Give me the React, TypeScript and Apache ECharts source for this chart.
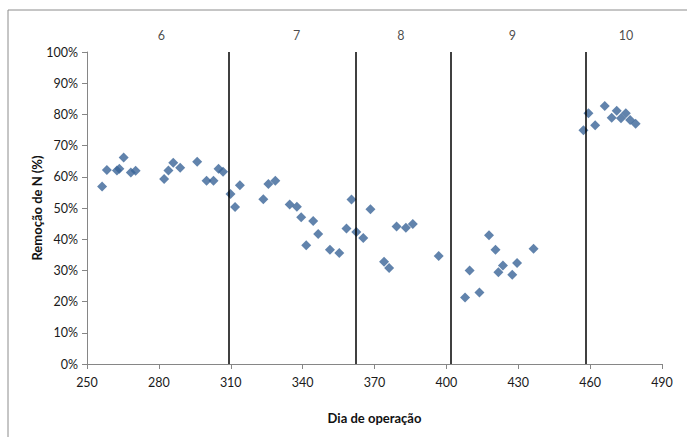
import React, { useEffect, useRef } from "react";
import * as echarts from "echarts";

const days = [
  256.3, 258.3, 262.5, 263.5, 265.3, 268.3, 270.3, 282.2, 284.0, 286.0, 288.9, 296.0,
  299.9, 302.8, 304.9, 306.8, 309.9, 311.8, 313.8,
  323.6, 325.7, 328.6, 334.6, 337.6, 339.4, 341.5, 344.4, 346.5, 351.4, 355.3, 358.3,
  360.4, 362.4, 365.3, 368.3,
  374.0, 376.1, 379.2, 383.1, 386.0, 396.8,
  407.8, 409.7, 413.8, 417.8, 420.5, 421.7, 423.6, 427.5, 429.5, 436.4,
  457.2, 459.3, 462.1, 466.1, 469.0, 471.1, 472.9, 474.9, 476.7, 479.0,
];
const removal = [
  56.9, 62.2, 62.0, 62.6, 66.2, 61.4, 61.9, 59.3, 62.0, 64.5, 62.9, 64.8,
  58.7, 58.7, 62.6, 61.6, 54.5, 50.3, 57.3,
  52.8, 57.7, 58.7, 51.1, 50.4, 47.0, 38.1, 45.8, 41.7, 36.6, 35.6, 43.4,
  52.7, 42.3, 40.4, 49.6,
  32.8, 30.8, 44.1, 43.7, 44.9, 34.6,
  21.3, 30.0, 22.9, 41.3, 36.6, 29.4, 31.6, 28.6, 32.4, 36.9,
  74.9, 80.4, 76.5, 82.7, 78.9, 81.2, 78.8, 80.4, 78.2, 77.0,
];
const boundaries = [309, 362, 402, 458];
const periodNames = ["6", "7", "8", "9", "10"];
const periodCenters = [281, 337.5, 381, 427.5, 475];

const FONT = "Lato, 'Open Sans', sans-serif";

export default function App() {
  const ref = useRef<HTMLDivElement>(null);
  useEffect(() => {
    if (!ref.current) return;
    const chart = echarts.init(ref.current, undefined, { renderer: "svg" });
    chart.setOption({
      animation: false,
      backgroundColor: "#ffffff",
      textStyle: { fontFamily: FONT },
      grid: { left: 87, right: 25, top: 52, bottom: 73 },
      graphic: [
        {
          type: "rect",
          shape: { x: 8, y: 10, width: 700, height: 450 },
          style: { fill: "none", stroke: "#8c8c8c", lineWidth: 1 },
          silent: true,
        },
      ],
      xAxis: {
        type: "value",
        min: 250,
        max: 490,
        interval: 30,
        splitLine: { show: false },
        axisLine: { show: true, lineStyle: { color: "#868686" } },
        axisTick: { show: true, inside: false, length: 5, lineStyle: { color: "#868686" } },
        axisLabel: { color: "#1a1a1a", fontSize: 12.5, margin: 12, fontFamily: FONT },
        name: "Dia de operação",
        nameLocation: "middle",
        nameGap: 47,
        nameTextStyle: { color: "#111", fontWeight: "bold", fontSize: 13, fontFamily: FONT },
      },
      yAxis: {
        type: "value",
        min: 0,
        max: 100,
        interval: 10,
        splitLine: { show: false },
        axisLine: { show: true, lineStyle: { color: "#868686" } },
        axisTick: { show: true, inside: false, length: 5, lineStyle: { color: "#868686" } },
        axisLabel: { color: "#1a1a1a", fontSize: 12.5, margin: 9, formatter: "{value}%", fontFamily: FONT },
        name: "Remoção de N (%)",
        nameLocation: "middle",
        nameGap: 44,
        nameMoveOverlap: false,
        nameTextStyle: { color: "#111", fontWeight: "bold", fontSize: 13, fontFamily: FONT },
      },
      series: [
        {
          type: "scatter",
          symbol: "diamond",
          symbolSize: 10,
          itemStyle: { color: "#3A6497" },
          data: days.map((d, i) => [d, removal[i]]),
          markLine: {
            silent: true,
            symbol: ["none", "none"],
            label: { show: false },
            lineStyle: { color: "#000", width: 1.5, type: "solid" },
            data: boundaries.map((b) => ({ xAxis: b })),
          },
          z: 3,
        },
        {
          type: "scatter",
          symbolSize: 0,
          clip: false,
          silent: true,
          data: periodCenters.map((c) => [c, 105.3]),
          label: {
            show: true,
            position: "inside",
            color: "#1a1a1a",
            fontSize: 12.5,
            fontFamily: FONT,
            formatter: (p: any) => periodNames[p.dataIndex],
          },
        },
      ],
    });
    return () => chart.dispose();
  }, []);
  return (
    <div
      ref={ref}
      style={{ position: "absolute", left: 0, top: 0, width: 687, height: 437 }}
    />
  );
}
